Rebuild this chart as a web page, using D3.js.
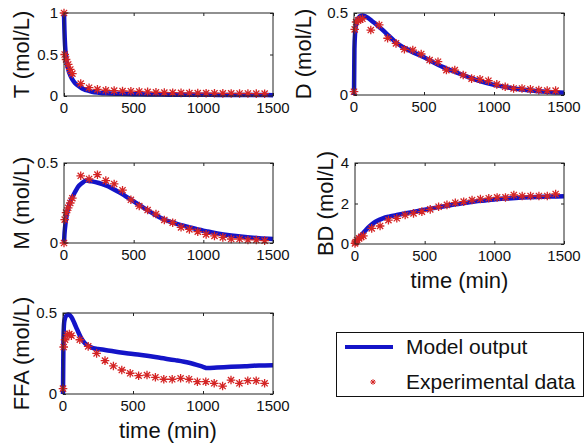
<!DOCTYPE html>
<html><head><meta charset="utf-8">
<script src="https://cdnjs.cloudflare.com/ajax/libs/d3/7.8.5/d3.min.js"></script>
<style>
html,body{margin:0;padding:0;background:#fff;}
svg{display:block;font-family:"Liberation Sans",Arial,Helvetica,sans-serif;}
</style></head>
<body>
<svg id="chart" width="585" height="448"></svg>
<script>
// ---------- data ----------
const expTime = [0,5,15,30,45,60,120,180,240,300,360,420,480,540,600,660,720,780,840,900,960,1020,1080,1140,1200,1260,1320,1380,1440];
const T_exp   = [1.0,0.50,0.44,0.38,0.32,0.27,0.15,0.10,0.08,0.069,0.065,0.06,0.058,0.055,0.05,0.045,0.042,0.04,0.038,0.036,0.035,0.034,0.033,0.032,0.031,0.03,0.03,0.029,0.028];
const D_exp   = [0.02,0.40,0.445,0.455,0.46,0.465,0.396,0.427,0.346,0.315,0.279,0.274,0.25,0.213,0.203,0.152,0.152,0.122,0.10,0.095,0.087,0.065,0.05,0.04,0.04,0.034,0.03,0.027,0.027];
const M_exp   = [0,0.146,0.19,0.22,0.25,0.28,0.42,0.40,0.427,0.39,0.369,0.33,0.27,0.231,0.206,0.181,0.144,0.127,0.098,0.085,0.071,0.054,0.044,0.035,0.025,0.025,0.019,0.019,0.015];
const BD_exp  = [0.03,0.1,0.2,0.28,0.35,0.4,0.77,0.89,1.18,1.27,1.43,1.51,1.6,1.71,1.84,1.93,2.04,2.09,2.17,2.22,2.26,2.3,2.3,2.42,2.37,2.37,2.37,2.37,2.47];
const FFA_exp = [0.033,0.29,0.335,0.366,0.37,0.36,0.335,0.294,0.251,0.206,0.173,0.148,0.128,0.113,0.117,0.103,0.091,0.091,0.097,0.091,0.076,0.076,0.066,0.049,0.086,0.066,0.082,0.082,0.066];

const modelTime = [0,3,8,15,25,40,60,80,100,130,160,200,250,300,400,500,600,700,800,900,1000,1030,1100,1200,1300,1400,1500];
const T_model   = [1.0,0.8,0.6,0.47,0.36,0.27,0.2,0.155,0.125,0.09,0.07,0.052,0.04,0.032,0.026,0.022,0.019,0.017,0.016,0.015,0.014,0.014,0.013,0.012,0.011,0.011,0.01];
const D_model   = [0,0.28,0.38,0.43,0.46,0.478,0.485,0.48,0.47,0.45,0.43,0.40,0.36,0.32,0.27,0.23,0.185,0.148,0.115,0.085,0.062,0.057,0.046,0.033,0.024,0.018,0.014];
const M_model   = [0,0.05,0.10,0.15,0.2,0.245,0.285,0.32,0.35,0.375,0.39,0.385,0.375,0.36,0.315,0.26,0.205,0.155,0.122,0.098,0.077,0.072,0.06,0.047,0.037,0.03,0.025];
const BD_model  = [0,0.04,0.1,0.17,0.27,0.4,0.55,0.7,0.85,1.02,1.15,1.27,1.36,1.43,1.56,1.69,1.82,1.94,2.04,2.13,2.2,2.22,2.25,2.29,2.32,2.34,2.36];
const FFA_model = [0,0.32,0.44,0.47,0.485,0.49,0.475,0.44,0.40,0.345,0.31,0.288,0.278,0.272,0.258,0.247,0.236,0.222,0.209,0.193,0.168,0.16,0.163,0.168,0.172,0.176,0.178];

const xTicks = [0,500,1000,1500];
const panelNames = ["T (mol/L)","D (mol/L)","M (mol/L)","BD (mol/L)","FFA (mol/L)"];
const yTickSets = [[0,0.5,1],[0,0.5],[0,0.5],[0,2,4],[0,0.5]];
const yMaxes = [1,0.5,0.5,4,0.5];
const legendLabels = ["Model output","Experimental data"];
const xLabel = "time (min)";

// ---------- layout ----------
const svg = d3.select("#chart");
const BLUE = "#1414c8", RED = "#d42424";
const boxes = [
  {x0:64,x1:273,y0:13,y1:96,lab:29,xl:false},
  {x0:354,x1:564,y0:13,y1:95,lab:311,xl:false},
  {x0:64,x1:273,y0:163,y1:243,lab:29,xl:false},
  {x0:355,x1:564,y0:163,y1:244,lab:333,xl:true},
  {x0:63,x1:273,y0:313,y1:394,lab:29,xl:true}
];
const expSets = [T_exp,D_exp,M_exp,BD_exp,FFA_exp];
const modelSets = [T_model,D_model,M_model,BD_model,FFA_model];
const starPath = s => `M${-s},0H${s}M0,${-s}V${s}M${-s*0.72},${-s*0.72}L${s*0.72},${s*0.72}M${-s*0.72},${s*0.72}L${s*0.72},${-s*0.72}`;

boxes.forEach((b,i)=>{
  const x = d3.scaleLinear().domain([0,1500]).range([b.x0,b.x1]);
  const y = d3.scaleLinear().domain([0,yMaxes[i]]).range([b.y1,b.y0]);
  const g = svg.append("g");
  const clipId = "clip"+i;
  svg.append("clipPath").attr("id",clipId).append("rect")
    .attr("x",b.x0-3).attr("y",b.y0-3).attr("width",b.x1-b.x0+6).attr("height",b.y1-b.y0+6);

  // axes via d3 axis generators (inner ticks)
  const tl = 3;
  g.append("g").attr("transform",`translate(0,${b.y1})`)
    .call(d3.axisBottom(x).tickValues(xTicks).tickSize(-tl).tickFormat(""))
    .call(a=>a.select(".domain").remove());
  g.append("g").attr("transform",`translate(0,${b.y0})`)
    .call(d3.axisTop(x).tickValues(xTicks).tickSize(-tl).tickFormat(""))
    .call(a=>a.select(".domain").remove());
  g.append("g").attr("transform",`translate(${b.x0},0)`)
    .call(d3.axisLeft(y).tickValues(yTickSets[i]).tickSize(-tl).tickFormat(""))
    .call(a=>a.select(".domain").remove());
  g.append("g").attr("transform",`translate(${b.x1},0)`)
    .call(d3.axisRight(y).tickValues(yTickSets[i]).tickSize(-tl).tickFormat(""))
    .call(a=>a.select(".domain").remove());
  g.selectAll(".tick line").attr("stroke","#222");

  // tick labels
  g.selectAll(".xt").data(xTicks).enter().append("text")
    .attr("x",d=>x(d)).attr("y",b.y1+16.5).attr("text-anchor","middle")
    .attr("font-size",15).attr("fill","#111").text(d=>d);
  g.selectAll(".yt").data(yTickSets[i]).enter().append("text")
    .attr("x",b.x0-6).attr("y",d=>y(d)).attr("dy","0.36em").attr("text-anchor","end")
    .attr("font-size",15).attr("fill","#111").text(d=>d);

  // data
  const line = d3.line().x((d,k)=>x(modelTime[k])).y(d=>y(d)).curve(d3.curveMonotoneX);
  g.append("path").datum(modelSets[i]).attr("d",line).attr("fill","none")
    .attr("stroke",BLUE).attr("stroke-width",4.5).attr("stroke-linejoin","round")
    .attr("clip-path",`url(#${clipId})`);
  g.selectAll(".st").data(expSets[i]).enter().append("path")
    .attr("transform",(d,k)=>`translate(${x(expTime[k])},${y(d)})`)
    .attr("d",starPath(4.3)).attr("stroke",RED).attr("stroke-width",1.3).attr("fill","none");

  // box
  g.append("rect").attr("x",b.x0).attr("y",b.y0).attr("width",b.x1-b.x0).attr("height",b.y1-b.y0)
    .attr("fill","none").attr("stroke","#222").attr("stroke-width",1);

  // y label
  const cy = (b.y0+b.y1)/2;
  g.append("text").attr("transform",`translate(${b.lab},${cy}) rotate(-90)`)
    .attr("text-anchor","middle").attr("font-size",22).attr("fill","#111").text(panelNames[i]);
  if(b.xl){
    g.append("text").attr("x",(b.x0+b.x1)/2).attr("y",b.y1+44).attr("text-anchor","middle")
      .attr("font-size",22).attr("fill","#111").text(xLabel);
  }
});

// legend
const lg = svg.append("g");
lg.append("rect").attr("x",336.5).attr("y",332.5).attr("width",247).attr("height",64)
  .attr("fill","#fff").attr("stroke","#111").attr("stroke-width",1);
lg.append("line").attr("x1",345).attr("x2",393).attr("y1",347).attr("y2",347)
  .attr("stroke",BLUE).attr("stroke-width",4);
lg.append("path").attr("transform","translate(373,382)").attr("d",starPath(2.8))
  .attr("stroke",RED).attr("stroke-width",1).attr("fill","none");
lg.selectAll(".lt").data(legendLabels).enter().append("text")
  .attr("x",406).attr("y",(d,k)=>347+k*35).attr("dy","0.35em")
  .attr("font-size",21).attr("fill","#111").text(d=>d);
</script>
</body></html>
